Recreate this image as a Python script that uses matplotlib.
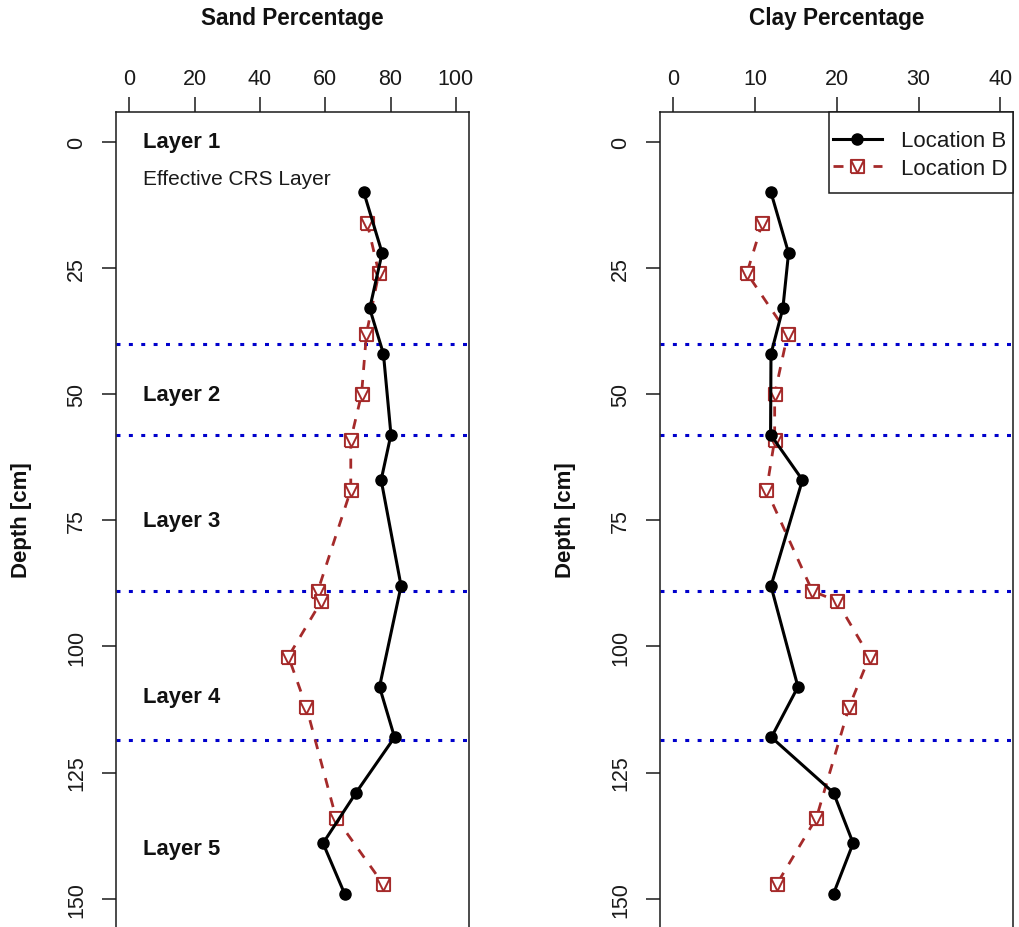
import matplotlib
matplotlib.use("Agg")
import matplotlib.pyplot as plt
from matplotlib.path import Path
from matplotlib.patches import Rectangle

plt.rcParams['font.family'] = ['Liberation Sans', 'DejaVu Sans']

# ---- data ----
depth_B = [10, 22, 33, 42, 58, 67, 88, 108, 118, 129, 139, 149]
sand_B = [71.8, 77.4, 73.6, 77.8, 80.1, 77.1, 83.2, 76.6, 81.2, 69.4, 59.3, 65.9]
clay_B = [11.95, 14.1, 13.4, 11.95, 11.9, 15.8, 11.95, 15.25, 12.0, 19.6, 22.0, 19.6]

depth_D = [16, 26, 38, 50, 59, 69, 89, 91, 102, 112, 134, 147]
sand_D = [72.8, 76.4, 72.6, 71.1, 67.8, 67.8, 57.7, 58.8, 48.7, 54.2, 63.3, 77.6]
clay_D = [10.9, 9.0, 14.0, 12.4, 12.4, 11.4, 17.0, 20.0, 24.0, 21.5, 17.5, 12.7]

layer_bounds = [40, 58, 89, 118.5]
layer_labels = ["Layer 1", "Layer 2", "Layer 3", "Layer 4", "Layer 5"]
layer_label_depths = [0, 50, 75, 110, 140]

sand_ticks = [0, 20, 40, 60, 80, 100]
clay_ticks = [0, 10, 20, 30, 40]
depth_ticks = [0, 25, 50, 75, 100, 125, 150]

W, H = 1019, 928
fig = plt.figure(figsize=(W / 100, H / 100), dpi=100)

brown = '#A52A2A'
sqv = Path([(-1, -1), (1, -1), (1, 1), (-1, 1), (-1, -1), (-1, 1), (0, -1), (1, 1)],
           [Path.MOVETO, Path.LINETO, Path.LINETO, Path.LINETO, Path.LINETO,
            Path.MOVETO, Path.LINETO, Path.LINETO])

top_px, bot_px = 112.7, 930.0
txtc = '#1a1a1a'


def make_ax(left_px, right_px):
    return fig.add_axes([left_px / W, 1 - bot_px / H, (right_px - left_px) / W, (bot_px - top_px) / H])


def style(ax, xlim, xticks):
    ax.set_xlim(*xlim)
    ax.set_ylim(156, -6)
    ax.xaxis.tick_top()
    ax.set_xticks(xticks)
    ax.set_yticks(depth_ticks)
    ax.tick_params(axis='x', direction='out', length=11, width=1.1, pad=5, labelsize=15.5, colors=txtc)
    ax.tick_params(axis='y', direction='out', length=10, width=1.1, pad=11, labelsize=15.5, colors=txtc)
    for lab in ax.get_yticklabels():
        lab.set_rotation(90)
        lab.set_va('center')
    for s in ax.spines.values():
        s.set_linewidth(1.1)
        s.set_color(txtc)
    for d in layer_bounds:
        ax.axhline(d, color='#0000CC', lw=2.2, linestyle=(0, (1.3, 2.75)), zorder=1)


def plot_series(ax, xb, xd):
    ax.plot(xb, depth_B, color='black', lw=2.2, marker='o', markersize=8, zorder=3, label='Location B')
    ax.plot(xd, depth_D, color=brown, lw=2.0, linestyle=(0, (3.6, 3.6)), marker=sqv,
            markersize=9.5, markerfacecolor='white', markeredgecolor=brown, markeredgewidth=1.4,
            zorder=2, label='Location D')


ax1 = make_ax(116.3, 469.0)
style(ax1, (-4, 104), sand_ticks)
plot_series(ax1, sand_B, sand_D)
for lab, d in zip(layer_labels, layer_label_depths):
    ax1.text(4.2, d, lab, fontsize=15.8, fontweight='bold', ha='left', va='center', color='#111111')
ax1.text(4.2, 7.2, "Effective CRS Layer", fontsize=15, ha='left', va='center', color=txtc)

ax2 = make_ax(660.2, 1013.4)
style(ax2, (-1.6, 41.6), clay_ticks)
plot_series(ax2, clay_B, clay_D)

# legend frame (R-style box flush with the top-right corner)
ax_w = 1013.4 - 660.2
ax_h = bot_px - top_px
fx0 = (829 - 660.2) / ax_w
fy0 = 1 - (194.3 - top_px) / ax_h
frame = Rectangle((fx0, fy0), 1 - fx0, 1 - fy0, transform=ax2.transAxes, facecolor='white',
                  edgecolor=txtc, lw=1.1, zorder=4, clip_on=False)
ax2.add_patch(frame)
leg = ax2.legend(loc='center left', bbox_to_anchor=((833 - 660.2) / ax_w, 1 - (155.5 - top_px) / ax_h),
                 borderaxespad=0, borderpad=0, frameon=False, fontsize=16, handlelength=2.2,
                 handletextpad=0.85, labelspacing=0.28)
leg.set_zorder(5)
for t in leg.get_texts():
    t.set_color(txtc)

fig.text(292.7 / W, 1 - 18 / H, "Sand Percentage", fontsize=16.3, fontweight='bold', ha='center', va='center', color='#111111')
fig.text(836.8 / W, 1 - 18 / H, "Clay Percentage", fontsize=16.3, fontweight='bold', ha='center', va='center', color='#111111')
fig.text(22 / W, 1 - 520 / H, "Depth [cm]", fontsize=16, fontweight='bold', rotation=90, ha='center', va='center', color='#111111')
fig.text(566 / W, 1 - 520 / H, "Depth [cm]", fontsize=16, fontweight='bold', rotation=90, ha='center', va='center', color='#111111')

fig.savefig("out.png", dpi=100, facecolor='white')
